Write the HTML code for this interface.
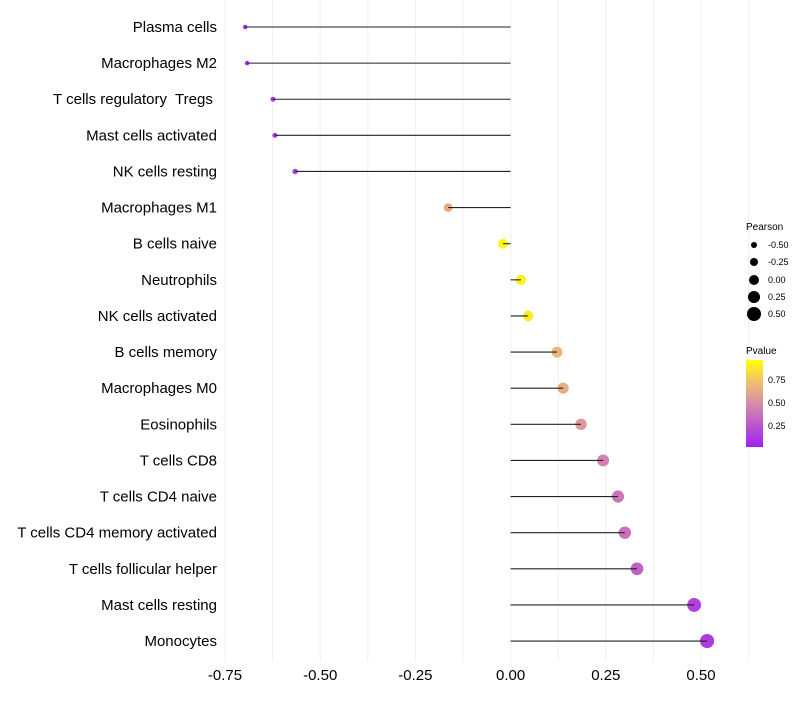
<!DOCTYPE html>
<html><head><meta charset="utf-8"><style>
body{margin:0;background:#fff;font-family:"Liberation Sans",sans-serif}
text{white-space:pre}
</style></head><body>
<svg id="chart" width="800" height="700" xmlns="http://www.w3.org/2000/svg">
<defs><linearGradient id="pg" x1="0" y1="1" x2="0" y2="0">
<stop offset="0" stop-color="#A020F0"/><stop offset="0.5" stop-color="#D78CA8"/><stop offset="0.75" stop-color="#F0C070"/><stop offset="1" stop-color="#FFFF00"/></linearGradient></defs>
<g id="grid"></g><g id="marks"></g><g id="axes"></g>
<g font-size="9" fill="#000">
<text x="746" y="230" font-size="10">Pearson</text>
<circle cx="754" cy="245" r="3"/><text x="768" y="248">-0.50</text>
<circle cx="754" cy="262" r="4"/><text x="768" y="265">-0.25</text>
<circle cx="754" cy="280" r="5"/><text x="768" y="283">0.00</text>
<circle cx="754" cy="297" r="6"/><text x="768" y="300">0.25</text>
<circle cx="754" cy="314" r="7"/><text x="768" y="317">0.50</text>
</g>
<g font-size="9">
<text x="746" y="354" font-size="10">Pvalue</text>
<rect x="746" y="360" width="17" height="87" fill="url(#pg)"/>
<text x="768" y="383">0.75</text><text x="768" y="406">0.50</text><text x="768" y="429">0.25</text>
</g>
</svg>
<script>
const categories=["Plasma cells","Macrophages M2","T cells regulatory  Tregs ","Mast cells activated","NK cells resting","Macrophages M1","B cells naive","Neutrophils","NK cells activated","B cells memory","Macrophages M0","Eosinophils","T cells CD8","T cells CD4 naive","T cells CD4 memory activated","T cells follicular helper","Mast cells resting","Monocytes"];
const pearson=[-0.697,-0.692,-0.624,-0.619,-0.566,-0.164,-0.02,0.027,0.046,0.122,0.138,0.185,0.243,0.282,0.30,0.332,0.482,0.516];
const pvalue=[0.04,0.05,0.1,0.1,0.15,0.65,0.98,0.95,0.92,0.7,0.66,0.56,0.45,0.4,0.38,0.3,0.15,0.12];
const xTicks=[-0.75,-0.5,-0.25,0,0.25,0.5];
const xTickLabels=["-0.75","-0.50","-0.25","0.00","0.25","0.50"];
const NS="http://www.w3.org/2000/svg";
const x=v=>510.6+v*380.8;
const y=i=>27+i*36.12;
function lerp(a,b,t){return a.map((c,k)=>Math.round(c+(b[k]-c)*t));}
const stops=[[0,[160,32,240]],[0.5,[215,140,168]],[0.75,[240,192,112]],[1,[255,255,0]]];
function col(p){for(let k=1;k<stops.length;k++){if(p<=stops[k][0]){const t=(p-stops[k-1][0])/(stops[k][0]-stops[k-1][0]);return "rgb("+lerp(stops[k-1][1],stops[k][1],t).join(",")+")";}}return "rgb(255,255,0)";}
function mk(tag,attrs,parent){const e=document.createElementNS(NS,tag);for(const k in attrs)e.setAttribute(k,attrs[k]);parent.appendChild(e);return e;}
const grid=document.getElementById('grid'),marks=document.getElementById('marks'),axes=document.getElementById('axes');
for(let v=-0.75;v<=0.63;v+=0.125){
 const g=mk('line',{x1:x(v),x2:x(v),y1:0,y2:662,stroke:'#f0f0f0','stroke-width':1},grid);
 
 
}
xTicks.forEach((v,i)=>{
 const t=mk('text',{x:x(v),y:680,'text-anchor':'middle','font-size':15,fill:'#000'},axes);
 t.textContent=xTickLabels[i];
 
 
});
categories.forEach((c,i)=>{
 const t=mk('text',{x:217,y:y(i)+5,'text-anchor':'end','font-size':15,fill:'#000'},axes);
 t.textContent=c;
 
 
 const pt=mk('circle',{cx:x(pearson[i]),cy:y(i),r:5+4*pearson[i],fill:col(pvalue[i])},marks);
 
 
 const ln=mk('line',{x1:x(0),x2:x(pearson[i]),y1:y(i),y2:y(i),stroke:'#222','stroke-width':1.1},marks);
 
 
});
</script>
</body></html>
